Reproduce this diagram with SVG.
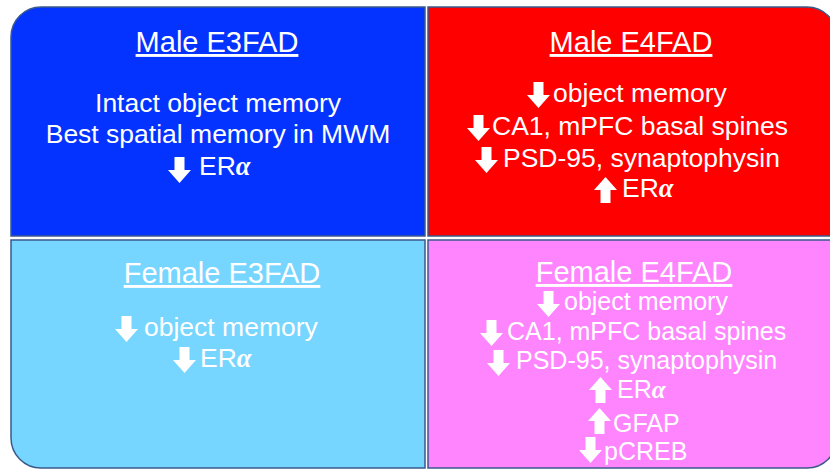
<svg xmlns="http://www.w3.org/2000/svg" xmlns:xlink="http://www.w3.org/1999/xlink" width="830" height="470" viewBox="0 0 830 470">
<style>
.box{stroke:#3B5A8C;stroke-width:1.5}
text{fill:#fff;font-family:"Liberation Sans",Arial,sans-serif}
.t{font-size:29px;text-decoration:underline;text-anchor:middle}
.b{font-size:26.5px}
.s{font-size:25px}
.c{text-anchor:middle}
.a{font-family:"Liberation Serif","DejaVu Serif",serif;font-weight:bold;font-style:italic}
.ar{fill:#fff}
</style>
<defs>
<path id="dn" class="ar" d="M6.5,0 H16.5 V13 H23 L11.5,26 L0,13 H6.5 Z"/>
<path id="up" class="ar" d="M11.5,0 L23,13 H16.5 V26 H6.5 V13 H0 Z"/>
</defs>
<rect width="830" height="470" fill="#fff"/>
<g id="male-e3fad">
<path class="box" fill="#0433FF" d="M11,236 V37 A30,30 0 0 1 41,7 H425 V236 Z"/>
<text class="t" x="217" y="52">Male E3FAD</text>
<text class="b c" x="218" y="112">Intact object memory</text>
<text class="b c" x="218" y="143">Best spatial memory in MWM</text>
<use xlink:href="#dn" x="168" y="157"/>
<text class="b" x="199" y="175">ER<tspan class="a">α</tspan></text>
</g>
<g id="male-e4fad">
<path class="box" fill="#FF0000" d="M428,7 H807 A30,30 0 0 1 837,37 V236 H428 Z"/>
<text class="t" x="631" y="52">Male E4FAD</text>
<use xlink:href="#dn" x="527" y="82"/>
<text class="b" x="553" y="102">object memory</text>
<use xlink:href="#dn" x="467" y="115"/>
<text class="b" x="492" y="135">CA1, mPFC basal spines</text>
<use xlink:href="#dn" x="475" y="147"/>
<text class="b" x="503" y="167">PSD-95, synaptophysin</text>
<use xlink:href="#up" x="594" y="177"/>
<text class="b" x="622" y="197">ER<tspan class="a">α</tspan></text>
</g>
<g id="female-e3fad">
<path class="box" fill="#76D6FF" d="M11,240 H425 V468 H41 A30,30 0 0 1 11,438 Z"/>
<text class="t" x="222" y="283">Female E3FAD</text>
<use xlink:href="#dn" x="115" y="316"/>
<text class="b" x="144" y="336">object memory</text>
<use xlink:href="#dn" x="173" y="347"/>
<text class="b" x="200" y="367">ER<tspan class="a">α</tspan></text>
</g>
<g id="female-e4fad">
<path class="box" fill="#FF85FF" d="M428,240 H837 V438 A30,30 0 0 1 807,468 H428 Z"/>
<text class="t" x="634" y="282">Female E4FAD</text>
<use xlink:href="#dn" x="537" y="291"/>
<text class="s" x="564" y="310">object memory</text>
<use xlink:href="#dn" x="480" y="320"/>
<text class="s" x="507" y="340">CA1, mPFC basal spines</text>
<use xlink:href="#dn" x="487" y="350"/>
<text class="s" x="516" y="369">PSD-95, synaptophysin</text>
<use xlink:href="#up" x="589" y="377"/>
<text class="s" x="617" y="398">ER<tspan class="a">α</tspan></text>
<use xlink:href="#up" x="588" y="408"/>
<text class="s" x="613" y="432">GFAP</text>
<use xlink:href="#dn" x="579" y="437"/>
<text class="s" x="604" y="460">pCREB</text>
</g>
</svg>
